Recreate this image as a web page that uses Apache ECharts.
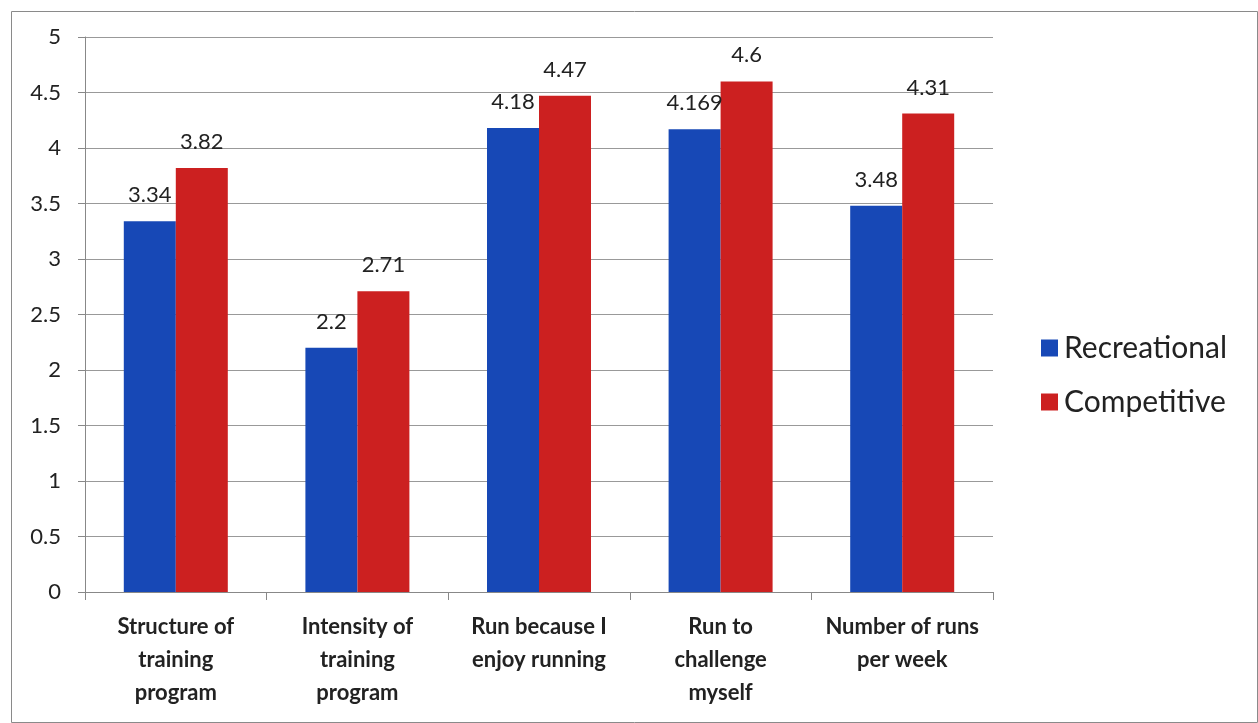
<!DOCTYPE html>
<html>
<head>
<meta charset="utf-8">
<script src="https://cdn.jsdelivr.net/npm/echarts@6/dist/echarts.min.js"></script>
<style>html,body{margin:0;padding:0;background:#fff;}#c{width:1258px;height:723px;}</style>
</head>
<body>
<div id="c"></div>
<script>
const categories = [
  "Structure of\ntraining\nprogram",
  "Intensity of\ntraining\nprogram",
  "Run because I\nenjoy running",
  "Run to\nchallenge\nmyself",
  "Number of runs\nper week"
];
const recreational = [3.34, 2.2, 4.18, 4.169, 3.48];
const competitive = [3.82, 2.71, 4.47, 4.6, 4.31];
const seriesNames = ["Recreational", "Competitive"];

const FONT = 'Lato, "Open Sans", sans-serif';
const chart = echarts.init(document.getElementById('c'));
const labelCfg = {
  show: true, position: 'top', distance: 15,
  fontFamily: FONT, fontSize: 22, color: '#222'
};
chart.setOption({
  animation: false,
  textStyle: { fontFamily: FONT },
  graphic: [{
    type: 'rect', left: 9, top: 9,
    shape: { width: 1246, height: 711 },
    style: { fill: 'none', stroke: '#8a8a8a', lineWidth: 1 }
  }],
  grid: { left: 85, right: 265, top: 37, bottom: 131, containLabel: false },
  legend: {
    orient: 'vertical', left: 1036, top: 328,
    itemWidth: 17, itemHeight: 17, itemGap: 24,
    icon: 'rect',
    textStyle: { fontFamily: FONT, fontSize: 30, lineHeight: 30, color: '#222', padding: [0, 0, 0, 1] },
    data: seriesNames
  },
  xAxis: {
    type: 'category', data: categories,
    axisLine: { lineStyle: { color: '#888' } },
    axisTick: { show: true, length: 8, alignWithLabel: false, lineStyle: { color: '#888' } },
    axisLabel: { fontFamily: FONT, fontSize: 22, fontWeight: 'bold', color: '#222',
                 lineHeight: 33, margin: 18, interval: 0 }
  },
  yAxis: {
    type: 'value', min: 0, max: 5, interval: 0.5,
    axisLine: { show: true, lineStyle: { color: '#888' } },
    axisTick: { show: true, length: 7, lineStyle: { color: '#888' } },
    splitLine: { show: true, lineStyle: { color: '#999', width: 1 } },
    axisLabel: { fontFamily: FONT, fontSize: 22, color: '#222', margin: 24 }
  },
  series: [
    { name: seriesNames[0], type: 'bar', data: recreational, barWidth: 52, barGap: '0%',
      itemStyle: { color: '#1748b6' }, label: labelCfg },
    { name: seriesNames[1], type: 'bar', data: competitive, barWidth: 52, barGap: '0%',
      itemStyle: { color: '#cc2020' }, label: labelCfg }
  ]
});
</script>
</body>
</html>
